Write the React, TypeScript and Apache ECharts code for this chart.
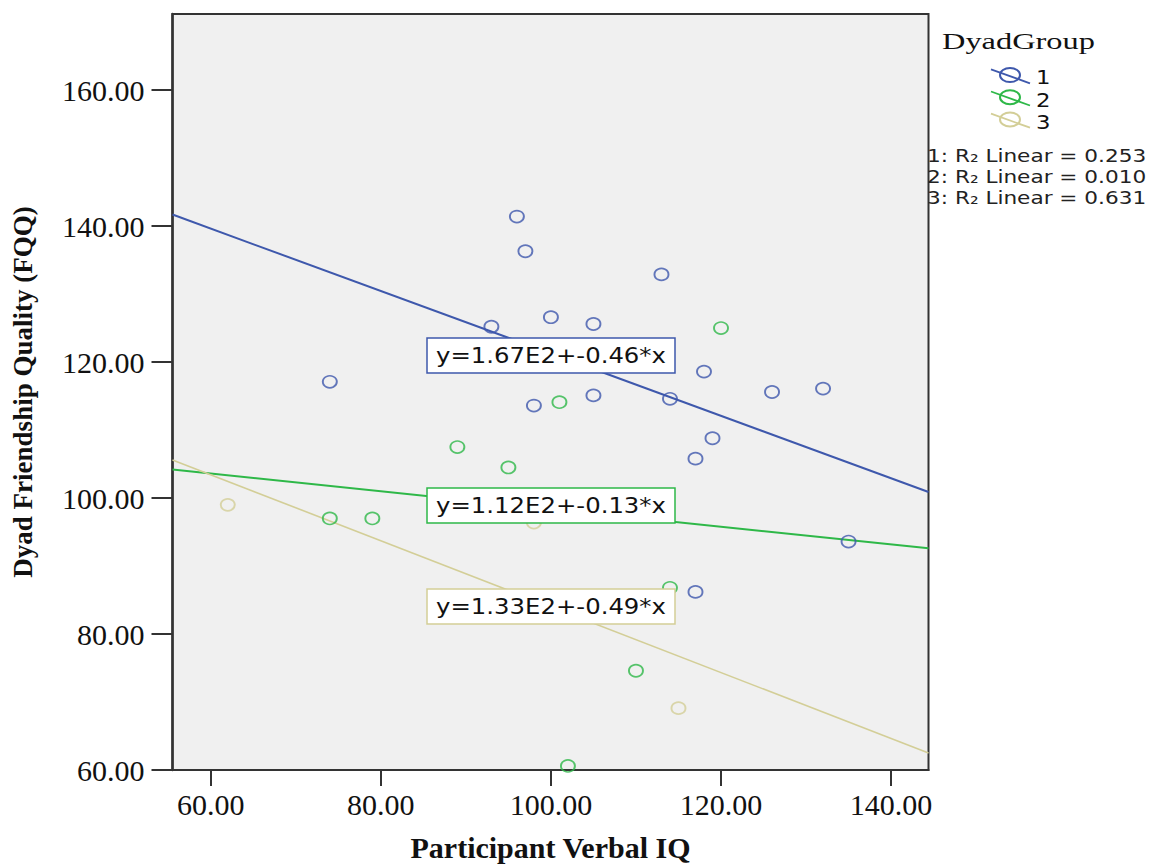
import React, { useEffect, useRef } from 'react';
import * as echarts from 'echarts';

// ---- data ----
const groups = ['1', '2', '3'];
const groupColors = ['#3E58AC', '#2EB848', '#D3CE97'];

const group1X = [74, 96, 97, 93, 100, 105, 113, 98, 105, 114, 118, 119, 117, 126, 132, 135, 117];
const group1Y = [117.1, 141.4, 136.3, 125.2, 126.6, 125.6, 132.9, 113.6, 115.1, 114.6, 118.6, 108.8, 105.8, 115.6, 116.1, 93.6, 86.2];

const group2X = [89, 95, 74, 79, 101, 120, 114, 110, 102];
const group2Y = [107.5, 104.5, 97.0, 97.0, 114.1, 125.0, 86.8, 74.6, 60.6];

const group3X = [62, 98, 115];
const group3Y = [99.0, 96.4, 69.1];

const xTicks = [60, 80, 100, 120, 140];
const yTicks = [60, 80, 100, 120, 140, 160];
const xRange = [55.5, 144.4];
const yRange = [60, 171.2];

// fit line values at the left and right edge of the plot
const fitStartY = [141.7, 104.2, 105.6];
const fitEndY = [100.9, 92.6, 62.5];
const equations = ['y=1.67E2+-0.46*x', 'y=1.12E2+-0.13*x', 'y=1.33E2+-0.49*x'];
const r2Values = ['0.253', '0.010', '0.631'];

const xTitle = 'Participant Verbal IQ';
const yTitle = 'Dyad Friendship Quality (FQQ)';
const legendTitle = 'DyadGroup';

const groupX = [group1X, group2X, group3X];
const groupY = [group1Y, group2Y, group3Y];

export default function App() {
  const ref = useRef<HTMLDivElement>(null);

  useEffect(() => {
    if (!ref.current) return;
    const chart = echarts.init(ref.current, undefined, { renderer: 'svg' });

    const serif = 'Liberation Serif';
    const sans = 'DejaVu Sans';

    const scatterSeries = groups.map((g, i) => ({
      type: 'scatter',
      name: g,
      data: groupX[i].map((x, j) => [x, groupY[i][j]]),
      symbol: 'circle',
      symbolSize: [14, 12],
      itemStyle: { color: 'rgba(0,0,0,0)', borderColor: groupColors[i], borderWidth: 1.8 },
      z: 3,
      silent: true,
    }));

    const fitSeries = groups.map((g, i) => ({
      type: 'line',
      name: 'fit' + g,
      data: [
        [xRange[0], fitStartY[i]],
        [xRange[1], fitEndY[i]],
      ],
      showSymbol: false,
      symbol: 'none',
      lineStyle: { color: groupColors[i], width: i === 2 ? 1.6 : 2 },
      z: 2,
      silent: true,
    }));

    const eqTops = [338, 488, 589];
    const eqBoxes: any[] = [];
    equations.forEach((eq, i) => {
      eqBoxes.push({
        type: 'rect',
        x: 427,
        y: eqTops[i],
        z: 100,
        zlevel: 0,
        shape: { x: 0, y: 0, width: 248, height: 35 },
        style: { fill: '#ffffff', stroke: groupColors[i], lineWidth: 1.5 },
      });
      eqBoxes.push({
        type: 'text',
        x: 427 + 124,
        y: eqTops[i] + 18,
        z: 101,
        scaleX: 1.16,
        style: {
          text: eq,
          fill: '#111',
          fontSize: 21,
          fontFamily: sans,
          align: 'center',
          verticalAlign: 'middle',
          textAlign: 'center',
          textVerticalAlign: 'middle',
        },
      });
    });

    const legendItems: any[] = [];
    legendItems.push({
      type: 'text',
      x: 942,
      y: 41,
      scaleX: 1.35,
      style: {
        text: legendTitle,
        fill: '#111',
        fontSize: 24,
        fontFamily: serif,
        align: 'left',
        verticalAlign: 'middle',
        textAlign: 'left',
        textVerticalAlign: 'middle',
      },
    });
    groups.forEach((g, i) => {
      const cy = 75 + 22.2 * i;
      legendItems.push({
        type: 'line',
        shape: { x1: 991, y1: cy - 5.7, x2: 1030, y2: cy + 8.3 },
        style: { stroke: groupColors[i], lineWidth: 1.8 },
      });
      legendItems.push({
        type: 'ellipse',
        shape: { cx: 1010, cy, rx: 10, ry: 7 },
        style: { fill: 'transparent', stroke: groupColors[i], lineWidth: 2 },
      });
      legendItems.push({
        type: 'text',
        x: 1036,
        y: cy + 3,
        scaleX: 1.2,
        style: {
          text: g,
          fill: '#111',
          fontSize: 19,
          fontFamily: sans,
          align: 'left',
          verticalAlign: 'middle',
          textAlign: 'left',
          textVerticalAlign: 'middle',
        },
      });
      legendItems.push({
        type: 'text',
        x: 927,
        y: 156 + 21 * i,
        scaleX: 1.2,
        style: {
          text: `${g}: R\u2082 Linear = ${r2Values[i]}`,
          fill: '#222',
          fontSize: 18,
          fontFamily: sans,
          align: 'left',
          verticalAlign: 'middle',
          textAlign: 'left',
          textVerticalAlign: 'middle',
        },
      });
    });

    const option: any = {
      animation: false,
      backgroundColor: '#ffffff',
      grid: {
        left: 172.5,
        right: 224.5,
        top: 14,
        bottom: 96.3,
        show: true,
        backgroundColor: '#f0f0f0',
        borderColor: '#333333',
        borderWidth: 2,
      },
      xAxis: {
        type: 'value',
        min: xRange[0],
        max: xRange[1],
        axisLine: { show: true, onZero: false, lineStyle: { color: '#333', width: 2 } },
        axisTick: {
          show: true,
          customValues: xTicks,
          length: 16,
          inside: false,
          lineStyle: { color: '#333', width: 2 },
        },
        axisLabel: {
          customValues: xTicks,
          formatter: (v: number) => v.toFixed(2),
          margin: 19,
          fontFamily: serif,
          fontSize: 30,
          color: '#111',
        },
        splitLine: { show: false },
        name: xTitle,
        nameLocation: 'middle',
        nameGap: 62,
        nameTextStyle: { fontFamily: serif, fontWeight: 'bold', fontSize: 30, color: '#111' },
      },
      yAxis: {
        type: 'value',
        min: yRange[0],
        max: yRange[1],
        axisLine: { show: true, onZero: false, lineStyle: { color: '#333', width: 2.5 } },
        axisTick: {
          show: true,
          customValues: yTicks,
          length: 21,
          inside: false,
          lineStyle: { color: '#333', width: 2 },
        },
        axisLabel: {
          customValues: yTicks,
          formatter: (v: number) => v.toFixed(2),
          margin: 28,
          fontFamily: serif,
          fontSize: 30,
          color: '#111',
        },
        splitLine: { show: false },
        name: yTitle,
        nameLocation: 'middle',
        nameRotate: 90,
        nameGap: 136,
        nameTextStyle: { fontFamily: serif, fontWeight: 'bold', fontSize: 27, color: '#111' },
      },
      series: [...fitSeries, ...scatterSeries],
      graphic: [...eqBoxes, ...legendItems],
    };

    chart.setOption(option);
    return () => chart.dispose();
  }, []);

  return (
    <div
      ref={ref}
      style={{ position: 'fixed', left: 0, top: 0, width: 1153, height: 867, background: '#fff' }}
    />
  );
}
